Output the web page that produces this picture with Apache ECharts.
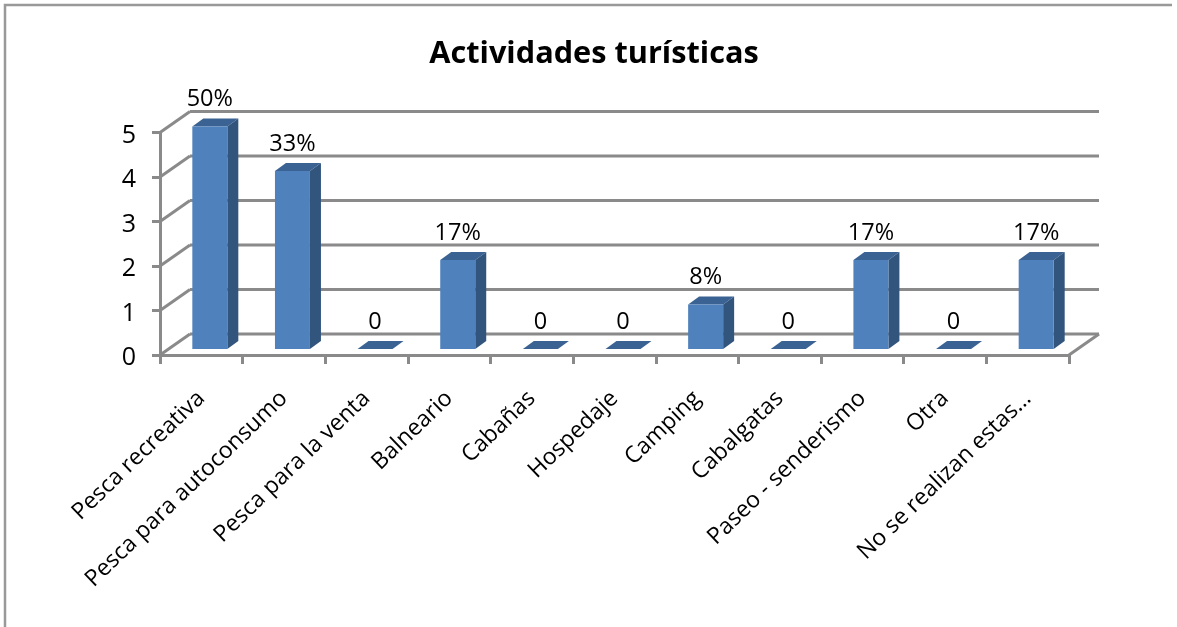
<!DOCTYPE html>
<html>
<head>
<meta charset="utf-8">
<title>Actividades turísticas</title>
<script src="https://cdn.jsdelivr.net/npm/echarts@6/dist/echarts.min.js"></script>
<style>
  html, body { margin: 0; padding: 0; background: #fff; }
  #chart { width: 1177px; height: 627px; }
</style>
</head>
<body>
<div id="chart"></div>
<script>
  var categories = ['Pesca recreativa', 'Pesca para autoconsumo', 'Pesca para la venta', 'Balneario', 'Cabañas', 'Hospedaje', 'Camping', 'Cabalgatas', 'Paseo - senderismo', 'Otra', 'No se realizan estas…'];
  var values = [5, 4, 0, 2, 0, 0, 1, 0, 2, 0, 2];
  var valueLabels = ['50%', '33%', '0', '17%', '0', '0', '8%', '0', '17%', '0', '17%'];
  var yTicks = [0, 1, 2, 3, 4, 5];

  var FONT = '"Open Sans", "Noto Sans", sans-serif';
  var LINE = '#8a8a8a';
  // offset of the back wall from the front axis
  var WALL_DX = 30, WALL_DY = -21;
  // bar placement relative to the slot
  var BAR_DX = 8.5, BAR_DY = -6, BAR_W = 35, DEPTH_X = 11, DEPTH_Y = -8;

  function renderWall(params, api) {
    var cs = params.coordSys;
    var y = api.coord([0, api.value(1)])[1];
    var lineStyle = { stroke: LINE, lineWidth: 3, fill: null };
    var children = [
      { type: 'line', shape: { x1: cs.x, y1: y, x2: cs.x + WALL_DX, y2: y + WALL_DY }, style: lineStyle },
      { type: 'line', shape: { x1: cs.x + WALL_DX, y1: y + WALL_DY, x2: cs.x + cs.width + WALL_DX, y2: y + WALL_DY }, style: lineStyle }
    ];
    if (api.value(1) === 0) {
      children.push({ type: 'line', shape: { x1: cs.x + cs.width, y1: y, x2: cs.x + cs.width + WALL_DX, y2: y + WALL_DY }, style: lineStyle });
    }
    return { type: 'group', children: children };
  }

  function renderBar(params, api) {
    var top = api.coord([api.value(0), api.value(1)]);
    var base = api.coord([api.value(0), 0]);
    var l = top[0] + BAR_DX - BAR_W / 2;
    var r = l + BAR_W;
    var t = top[1] + BAR_DY;
    var b = base[1] + BAR_DY;
    var children = [];
    children.push({
      type: 'polygon',
      shape: { points: [[l, t], [r, t], [r + DEPTH_X, t + DEPTH_Y], [l + DEPTH_X, t + DEPTH_Y]] },
      style: { fill: '#3a6292' }
    });
    if (b > t) {
      children.push({
        type: 'polygon',
        shape: { points: [[r, t], [r + DEPTH_X, t + DEPTH_Y], [r + DEPTH_X, b + DEPTH_Y], [r, b]] },
        style: { fill: '#32557e' }
      });
      children.push({ type: 'rect', shape: { x: l, y: t, width: BAR_W, height: b - t }, style: { fill: '#4f81bd' } });
    }
    children.push({
      type: 'text',
      style: {
        text: valueLabels[params.dataIndex],
        x: l + BAR_W / 2,
        y: t + DEPTH_Y - 19,
        align: 'center',
        verticalAlign: 'middle',
        font: '23.5px ' + FONT,
        fill: '#000'
      }
    });
    return { type: 'group', children: children };
  }

  var chart = echarts.init(document.getElementById('chart'), null, { renderer: 'canvas' });
  chart.setOption({
    backgroundColor: '#fff',
    animation: false,
    title: {
      text: 'Actividades turísticas',
      left: 589,
      top: 34,
      textAlign: 'center',
      textStyle: { fontFamily: FONT, fontSize: 30.7, fontWeight: 'bold', color: '#000' }
    },
    graphic: [{
      type: 'polyline',
      shape: { points: [[5, 627], [5, 5], [1172, 5]] },
      style: { stroke: '#999', lineWidth: 2.5, fill: null },
      silent: true
    }],
    grid: { left: 160, right: 108, top: 132.5, bottom: 272 },
    xAxis: {
      type: 'category',
      data: categories,
      axisLine: { lineStyle: { color: LINE, width: 3 } },
      axisTick: { show: true, alignWithLabel: false, length: 9, lineStyle: { color: LINE, width: 3 } },
      axisLabel: { interval: 0, rotate: 44, margin: 40, fontFamily: FONT, fontSize: 23, color: '#000' },
      splitLine: { show: false }
    },
    yAxis: {
      type: 'value',
      min: 0,
      max: 5,
      interval: 1,
      axisLine: { show: true, lineStyle: { color: LINE, width: 3 } },
      axisTick: { show: true, length: 8, lineStyle: { color: LINE, width: 3 } },
      axisLabel: { margin: 24, verticalAlign: 'top', lineHeight: 6, fontFamily: FONT, fontSize: 25, color: '#000' },
      splitLine: { show: false }
    },
    series: [
      {
        type: 'custom',
        coordinateSystem: 'cartesian2d',
        silent: true,
        z: 1,
        data: yTicks.map(function (v) { return [0, v]; }),
        renderItem: renderWall
      },
      {
        type: 'custom',
        coordinateSystem: 'cartesian2d',
        z: 3,
        data: values.map(function (v, i) { return [i, v]; }),
        encode: { x: 0, y: 1 },
        renderItem: renderBar
      }
    ]
  });
</script>
</body>
</html>
